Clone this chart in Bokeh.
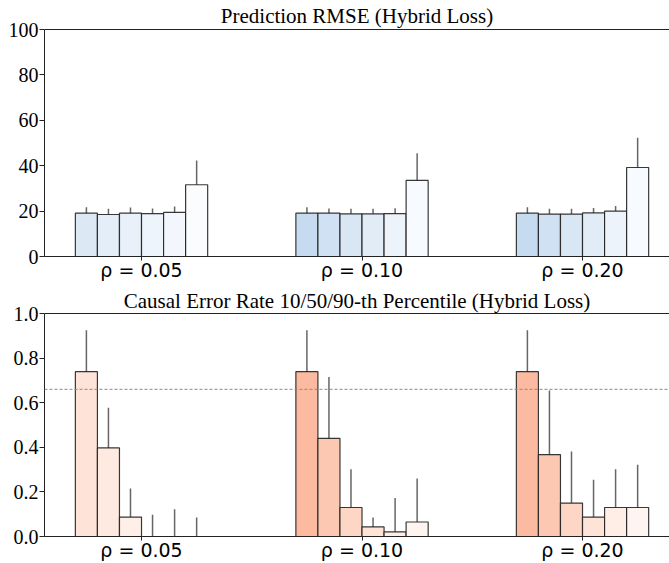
from bokeh.plotting import figure
from bokeh.models import (ColumnDataSource, FixedTicker, Whisker, Span, LinearAxis,
                          NumeralTickFormatter, Range1d)
from bokeh.layouts import column
from bokeh.embed import file_html
from bokeh.resources import INLINE

# ---------------- data ----------------
group_labels = ["ρ = 0.05", "ρ = 0.10", "ρ = 0.20"]
group_pos = [0, 1, 2]

rmse_mean = [[19.1, 18.5, 19.1, 18.9, 19.4, 31.6],
             [19.1, 19.1, 18.8, 18.8, 18.9, 33.5],
             [19.1, 18.7, 18.7, 19.2, 20.0, 39.2]]
rmse_low = [[16.1, 15.9, 16.3, 16.4, 16.4, 20.6],
            [16.1, 16.4, 16.3, 16.3, 16.4, 21.3],
            [16.1, 16.1, 16.1, 16.4, 17.0, 26.4]]
rmse_high = [[21.7, 21.0, 21.6, 21.1, 22.0, 42.3],
             [21.7, 21.1, 21.0, 21.0, 21.3, 45.5],
             [21.7, 21.0, 21.0, 21.4, 22.3, 52.3]]

cer_p50 = [[0.739, 0.397, 0.087, 0.0, 0.0, 0.0],
           [0.739, 0.440, 0.130, 0.043, 0.021, 0.065],
           [0.739, 0.367, 0.150, 0.087, 0.130, 0.130]]
cer_p10 = [[0.463, 0.118, 0.0, 0.0, 0.0, 0.0],
           [0.463, 0.173, 0.0, 0.0, 0.0, 0.0],
           [0.463, 0.147, 0.0, 0.0, 0.043, 0.043]]
cer_p90 = [[0.925, 0.577, 0.215, 0.097, 0.122, 0.085],
           [0.925, 0.715, 0.302, 0.085, 0.173, 0.260],
           [0.925, 0.655, 0.381, 0.255, 0.302, 0.322]]
threshold = 0.66

blue_colors = [["#dce9f5", "#e3eef8", "#e8f0f9", "#eef4fb", "#f3f7fd", "#fafcfe"],
               ["#c6dbef", "#cfe1f2", "#d9e7f4", "#e2ecf7", "#edf3fb", "#f7fafe"],
               ["#c6dbef", "#cfe1f2", "#d9e7f4", "#e2ecf7", "#edf3fb", "#f7fafe"]]
red_colors = [["#fee4d8", "#feeae0", "#fef0e9", "#fef3ee", "#fff6f2", "#fff9f7"],
              ["#fcbba1", "#fcc8b2", "#fdd6c5", "#fee3d7", "#feeee6", "#fff5f0"],
              ["#fcbba1", "#fcc8b2", "#fdd6c5", "#fee3d7", "#feeee6", "#fff5f0"]]

BAR_W = 0.1
N = 6


def build_source(vals, lo, hi, cols):
    xs, tops, los, his, cs = [], [], [], [], []
    for g in range(len(group_pos)):
        for i in range(N):
            xs.append(group_pos[g] + (i - (N - 1) / 2) * BAR_W)
            tops.append(vals[g][i])
            los.append(lo[g][i])
            his.append(hi[g][i])
            cs.append(cols[g][i])
    return ColumnDataSource(dict(x=xs, top=tops, lo=los, hi=his, color=cs))


SERIF = "Liberation Serif"
SANS = "DejaVu Sans"
W = 669
LEFT = 44
X0 = -0.44
X1 = X0 + (W - LEFT) / 220.5


def make_fig(title, yr, height, border_top, border_bottom, title_standoff):
    p = figure(width=W, height=height, output_backend="svg", toolbar_location=None,
               x_range=Range1d(X0, X1), y_range=yr,
               min_border_left=LEFT, min_border_right=0,
               min_border_top=border_top, min_border_bottom=border_bottom)
    p.title.text = title
    p.title.text_font = SERIF
    p.title.text_font_size = "21px"
    p.title.text_font_style = "normal"
    p.title.text_color = "black"
    p.title.align = "center"
    p.title.standoff = title_standoff
    p.title.offset = 0
    p.outline_line_color = None
    p.xgrid.visible = False
    p.ygrid.visible = False
    p.background_fill_color = "white"
    p.border_fill_color = "white"

    xa = p.xaxis[0]
    xa.ticker = FixedTicker(ticks=group_pos)
    xa.major_label_overrides = {g: lab for g, lab in zip(group_pos, group_labels)}
    xa.major_label_text_font = SANS
    xa.major_label_text_font_size = "19px"
    xa.major_label_text_color = "black"
    xa.major_label_standoff = -2
    xa.major_tick_out = 4
    xa.major_tick_in = 0
    xa.minor_tick_line_color = None
    xa.axis_line_color = "#222222"
    xa.major_tick_line_color = "#222222"

    ya = p.yaxis[0]
    ya.major_label_text_font = SERIF
    ya.major_label_text_font_size = "20px"
    ya.major_label_text_color = "black"
    ya.major_label_standoff = 1
    ya.major_tick_out = 5
    ya.major_tick_in = 0
    ya.minor_tick_line_color = None
    ya.axis_line_color = "#222222"
    ya.major_tick_line_color = "#222222"

    top_axis = LinearAxis(ticker=FixedTicker(ticks=[]), major_label_text_font_size="0px",
                          major_tick_out=0, major_tick_in=0, minor_tick_out=0,
                          minor_tick_in=0, axis_line_color="#222222")
    p.add_layout(top_axis, "above")
    return p


# ---------- top: RMSE ----------
p1 = make_fig("Prediction RMSE (Hybrid Loss)", Range1d(0, 100), 284, 29, 28, 3)
p1.yaxis[0].ticker = FixedTicker(ticks=[0, 20, 40, 60, 80, 100])
src1 = build_source(rmse_mean, rmse_low, rmse_high, blue_colors)
p1.vbar(x="x", top="top", bottom=0, width=BAR_W, source=src1, fill_color="color",
        line_color="#222222", line_alpha=0.9, line_width=1.2)
p1.add_layout(Whisker(base="x", upper="hi", lower="lo", source=src1,
                      upper_head=None, lower_head=None, line_color="#555555",
                      line_width=1.5, line_alpha=0.9))

# ---------- bottom: causal error rate ----------
p2 = make_fig("Causal Error Rate 10/50/90-th Percentile (Hybrid Loss)", Range1d(0, 1.0),
              279, 29, 24, 2)
p2.yaxis[0].ticker = FixedTicker(ticks=[0, 0.2, 0.4, 0.6, 0.8, 1.0])
p2.yaxis[0].formatter = NumeralTickFormatter(format="0.0")
src2 = build_source(cer_p50, cer_p10, cer_p90, red_colors)
p2.vbar(x="x", top="top", bottom=0, width=BAR_W, source=src2, fill_color="color",
        line_color="#222222", line_alpha=0.9, line_width=1.2)
p2.add_layout(Span(location=threshold, dimension="width", line_color="#888888",
                   line_dash="3 2", line_width=1))
p2.add_layout(Whisker(base="x", upper="hi", lower="lo", source=src2,
                      upper_head=None, lower_head=None, line_color="#555555",
                      line_width=1.5, line_alpha=0.9))

layout = column(p1, p2, spacing=0)
open("out.html", "w").write(file_html(layout, INLINE))
